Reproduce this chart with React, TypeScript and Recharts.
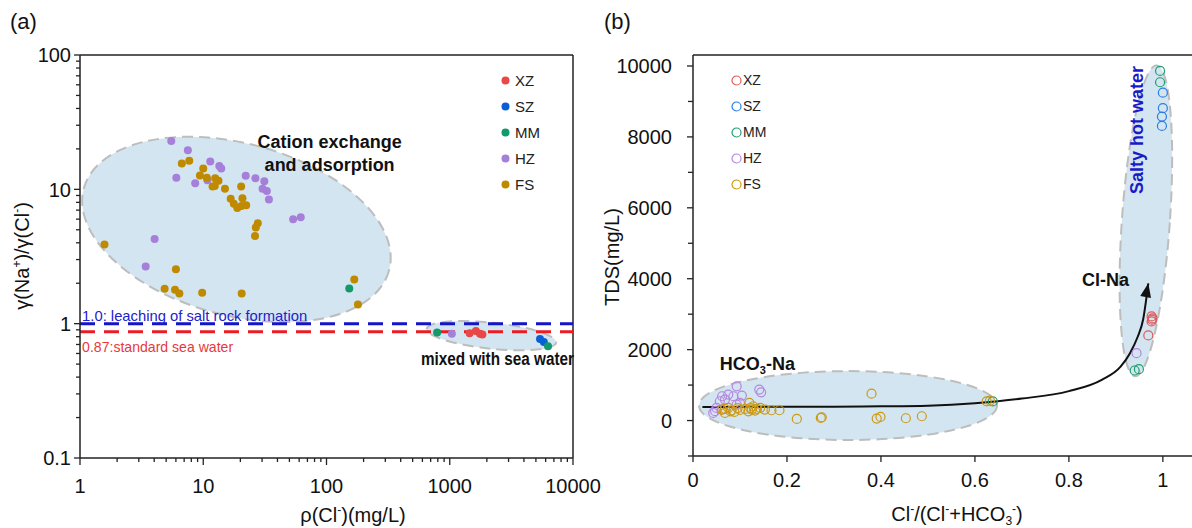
import React from "react";
import {
  ComposedChart,
  Scatter,
  Line,
  XAxis,
  YAxis,
  ReferenceLine,
  ReferenceArea,
  ReferenceDot,
  Legend,
} from "recharts";

const FONT = "'Liberation Sans', Arial, Helvetica, sans-serif";
const AXIS = "#222";

// ---------- (a) γ(Na+)/γ(Cl-) vs ρ(Cl-) ----------
const seriesNames = ["XZ", "SZ", "MM", "HZ", "FS"];
const fillA = ["#e84848", "#0b5fd5", "#12996c", "#a57fd9", "#bf8a00"];

const aXZ = [
  { x: 1450, y: 0.85 },
  { x: 1630, y: 0.88 },
  { x: 1760, y: 0.84 },
  { x: 1840, y: 0.83 },
];
const aSZ = [
  { x: 5400, y: 0.77 },
  { x: 5800, y: 0.73 },
];
const aMM = [
  { x: 153, y: 1.83 },
  { x: 790, y: 0.86 },
  { x: 6270, y: 0.68 },
];
const aHZ = [
  { x: 5.5, y: 22.9 },
  { x: 7.5, y: 19.5 },
  { x: 11.4, y: 16.1 },
  { x: 13.5, y: 14.9 },
  { x: 14.0, y: 14.3 },
  { x: 6.05, y: 12.2 },
  { x: 8.6, y: 11.1 },
  { x: 10.8, y: 11.7 },
  { x: 22.1, y: 12.6 },
  { x: 26.5, y: 12.1 },
  { x: 31.3, y: 11.5 },
  { x: 30.3, y: 10.1 },
  { x: 32.8, y: 9.7 },
  { x: 34.1, y: 8.4 },
  { x: 53.6, y: 6.0 },
  { x: 61.8, y: 6.2 },
  { x: 4.03, y: 4.26 },
  { x: 3.41, y: 2.66 },
  { x: 1040, y: 0.84 },
];
const aFS = [
  { x: 6.7, y: 15.6 },
  { x: 7.7, y: 16.3 },
  { x: 10.0, y: 14.3 },
  { x: 9.4, y: 12.7 },
  { x: 10.7, y: 12.2 },
  { x: 12.5, y: 12.1 },
  { x: 13.3, y: 11.6 },
  { x: 11.9, y: 10.5 },
  { x: 12.4, y: 10.6 },
  { x: 15.0, y: 10.1 },
  { x: 20.3, y: 10.5 },
  { x: 16.7, y: 8.5 },
  { x: 20.8, y: 8.6 },
  { x: 17.7, y: 7.8 },
  { x: 18.9, y: 7.25 },
  { x: 20.4, y: 7.5 },
  { x: 22.3, y: 7.6 },
  { x: 27.7, y: 5.6 },
  { x: 26.7, y: 5.2 },
  { x: 26.3, y: 4.5 },
  { x: 1.58, y: 3.89 },
  { x: 6.0, y: 2.54 },
  { x: 4.86, y: 1.82 },
  { x: 5.9, y: 1.79 },
  { x: 6.4, y: 1.68 },
  { x: 9.8, y: 1.7 },
  { x: 20.5, y: 1.68 },
  { x: 168, y: 2.13 },
  { x: 180, y: 1.39 },
];
const seriesA = [aXZ, aSZ, aMM, aHZ, aFS];

const xMajorA = [1, 10, 100, 1000, 10000];
const xMinorA = [
  2, 3, 4, 5, 6, 7, 8, 9, 20, 30, 40, 50, 60, 70, 80, 90, 200, 300, 400, 500, 600, 700, 800, 900,
  2000, 3000, 4000, 5000, 6000, 7000, 8000, 9000,
];
const yMajorA = [0.1, 1, 10, 100];
const yMinorA = [0.2, 0.3, 0.4, 0.5, 0.6, 0.7, 0.8, 0.9, 2, 3, 4, 5, 6, 7, 8, 9, 20, 30, 40, 50, 60, 70, 80, 90];

// ellipse boxes (unrotated) in data units
const ellipsesA = [
  { x1: 0.97, x2: 356, y1: 1.15, y2: 22, angle: 15 },
  { x1: 647, x2: 7350, y1: 0.651, y2: 1.017, angle: 6 },
];

// ---------- (b) TDS vs Cl/(Cl+HCO3) ----------
const strokeB = ["#e05a5a", "#2b7de0", "#1f9e70", "#b487e0", "#cc9a12"];

const bXZ = [
  { x: 0.976, y: 2938 },
  { x: 0.978, y: 2880 },
  { x: 0.977, y: 2845 },
  { x: 0.976, y: 2797 },
  { x: 0.969, y: 2400 },
];
const bSZ = [
  { x: 1.0, y: 9248 },
  { x: 1.0, y: 8809 },
  { x: 0.998, y: 8573 },
  { x: 0.998, y: 8310 },
];
const bMM = [
  { x: 0.638, y: 540 },
  { x: 0.94, y: 1411 },
  { x: 0.949, y: 1449 },
  { x: 0.994, y: 9860 },
  { x: 0.994, y: 9541 },
];
const bHZ = [
  { x: 0.043, y: 216 },
  { x: 0.047, y: 263 },
  { x: 0.05, y: 357 },
  { x: 0.057, y: 544 },
  { x: 0.061, y: 310 },
  { x: 0.062, y: 685 },
  { x: 0.068, y: 592 },
  { x: 0.075, y: 732 },
  { x: 0.086, y: 685 },
  { x: 0.093, y: 966 },
  { x: 0.093, y: 451 },
  { x: 0.1, y: 498 },
  { x: 0.104, y: 704 },
  { x: 0.141, y: 873 },
  { x: 0.145, y: 797 },
  { x: 0.944, y: 1900 },
];
const bFS = [
  { x: 0.062, y: 310 },
  { x: 0.068, y: 215 },
  { x: 0.068, y: 330 },
  { x: 0.075, y: 357 },
  { x: 0.08, y: 260 },
  { x: 0.082, y: 290 },
  { x: 0.088, y: 243 },
  { x: 0.095, y: 350 },
  { x: 0.1, y: 300 },
  { x: 0.111, y: 329 },
  { x: 0.118, y: 260 },
  { x: 0.12, y: 498 },
  { x: 0.122, y: 350 },
  { x: 0.125, y: 310 },
  { x: 0.128, y: 403 },
  { x: 0.132, y: 280 },
  { x: 0.136, y: 329 },
  { x: 0.143, y: 357 },
  { x: 0.153, y: 310 },
  { x: 0.167, y: 290 },
  { x: 0.184, y: 290 },
  { x: 0.221, y: 47 },
  { x: 0.272, y: 75 },
  { x: 0.274, y: 93 },
  { x: 0.38, y: 757 },
  { x: 0.391, y: 56 },
  { x: 0.399, y: 103 },
  { x: 0.453, y: 65 },
  { x: 0.487, y: 121 },
  { x: 0.625, y: 542 },
  { x: 0.632, y: 561 },
];
const seriesB = [bXZ, bSZ, bMM, bHZ, bFS];

const trend = [
  { x: 0.02, y: 385 },
  { x: 0.1, y: 385 },
  { x: 0.2, y: 388 },
  { x: 0.3, y: 392 },
  { x: 0.4, y: 400 },
  { x: 0.5, y: 420 },
  { x: 0.6, y: 490 },
  { x: 0.7, y: 620 },
  { x: 0.8, y: 830 },
  { x: 0.87, y: 1150 },
  { x: 0.91, y: 1520 },
  { x: 0.93, y: 1900 },
  { x: 0.946, y: 2350 },
  { x: 0.958, y: 2850 },
  { x: 0.969, y: 3870 },
];

const xTicksB = [0, 0.2, 0.4, 0.6, 0.8, 1];
const yTicksB = [-1000, 0, 1000, 2000, 3000, 4000, 5000, 6000, 7000, 8000, 9000, 10000];
const yLabelsB = [0, 2000, 4000, 6000, 8000, 10000];

const ellipsesB = [
  { x1: 0.0128, x2: 0.647, y1: -549, y2: 1394, angle: 0 },
  { x1: 0.9128, x2: 1.0149, y1: 1239, y2: 10028, angle: 4 },
];

// ---------- helpers ----------
const ellipseShape = (angle: number) => (p: any) => {
  const w = Math.abs(p.width);
  const h = Math.abs(p.height);
  const cx = Math.min(p.x, p.x + p.width) + w / 2;
  const cy = Math.min(p.y, p.y + p.height) + h / 2;
  return (
    <ellipse
      cx={cx}
      cy={cy}
      rx={w / 2}
      ry={h / 2}
      transform={`rotate(${angle} ${cx} ${cy})`}
      fill="#d3e5f0"
      stroke="#bdbdbd"
      strokeWidth={2}
      strokeDasharray="11 6"
    />
  );
};

const yTick = (labels: number[], fmt: (v: number) => string, lenMajor: number, lenMinor: number, gap: number) =>
  (props: any) => {
    const { x, y, payload } = props;
    const major = labels.includes(payload.value);
    const len = major ? lenMajor : lenMinor;
    return (
      <g>
        <line x1={x} y1={y} x2={x - len} y2={y} stroke={AXIS} strokeWidth={1.3} />
        {major && (
          <text x={x - lenMajor - gap} y={y} dy="0.36em" textAnchor="end" fontSize={20} fill="#111" fontFamily={FONT}>
            {fmt(payload.value)}
          </text>
        )}
      </g>
    );
  };

const xTick = (labels: number[], fmt: (v: number) => string, lenMajor: number, lenMinor: number, base: number) =>
  (props: any) => {
    const { x, y, payload } = props;
    const major = labels.includes(payload.value);
    const len = major ? lenMajor : lenMinor;
    return (
      <g>
        <line x1={x} y1={y} x2={x} y2={y + len} stroke={AXIS} strokeWidth={1.3} />
        {major && (
          <text x={x} y={y + base} textAnchor="middle" fontSize={20} fill="#111" fontFamily={FONT}>
            {fmt(payload.value)}
          </text>
        )}
      </g>
    );
  };

const textDot = (content: React.ReactNode) => (p: any) => <g transform={`translate(${p.cx},${p.cy})`}>{content}</g>;

function LegendList({ colors, hollow, fontSize }: { colors: string[]; hollow: boolean; fontSize: number }) {
  return (
    <div style={{ fontFamily: FONT, fontSize, color: "#222", lineHeight: 1 }}>
      {seriesNames.map((n, i) => (
        <div key={n} style={{ display: "flex", alignItems: "center", height: 26 }}>
          <svg width={11} height={11} style={{ display: "block" }}>
            {hollow ? (
              <circle cx={5.5} cy={5.5} r={4.5} fill="none" stroke={colors[i]} strokeWidth={1.2} />
            ) : (
              <circle cx={5.5} cy={5.5} r={4} fill={colors[i]} />
            )}
          </svg>
          <span style={{ marginLeft: hollow ? 1 : 4 }}>{n}</span>
        </div>
      ))}
    </div>
  );
}

const fmtLog = (v: number) => String(v);
const fmtB = (v: number) => String(v);

function ChartA() {
  return (
    <ComposedChart width={612} height={528} margin={{ top: 55, right: 39, bottom: 0, left: 0 }}>
      {ellipsesA.map((e, i) => (
        <ReferenceArea
          key={i}
          x1={e.x1}
          x2={e.x2}
          y1={e.y1}
          y2={e.y2}
          ifOverflow="visible"
          shape={ellipseShape(e.angle)}
        />
      ))}
      <XAxis
        dataKey="x"
        type="number"
        scale="log"
        domain={[1, 10000]}
        allowDataOverflow
        ticks={[...xMajorA, ...xMinorA]}
        interval={0}
        height={70}
        tickSize={0}
        tickMargin={0}
        tickLine={false}
        axisLine={{ stroke: AXIS, strokeWidth: 1.5 }}
        tick={xTick(xMajorA, fmtLog, 7, 4, 35)}
      />
      <YAxis
        dataKey="y"
        type="number"
        scale="log"
        domain={[0.1, 100]}
        allowDataOverflow
        ticks={[...yMajorA, ...yMinorA]}
        interval={0}
        width={80}
        tickSize={0}
        tickMargin={0}
        tickLine={false}
        axisLine={{ stroke: AXIS, strokeWidth: 1.5 }}
        tick={yTick(yMajorA, fmtLog, 6, 4, 3)}
      />
      <ReferenceLine y={100} stroke={AXIS} strokeWidth={1.5} ifOverflow="visible" />
      <ReferenceLine x={10000} stroke={AXIS} strokeWidth={1.5} ifOverflow="visible" />
      <ReferenceLine y={1} stroke="#1414c8" strokeWidth={3} strokeDasharray="15 9" />
      <ReferenceLine y={0.87} stroke="#ec1c24" strokeWidth={3} strokeDasharray="15 9" />
      {seriesA.map((d, i) => (
        <Scatter
          key={seriesNames[i]}
          name={seriesNames[i]}
          data={d}
          isAnimationActive={false}
          shape={(p: any) => <circle cx={p.cx} cy={p.cy} r={4} fill={fillA[i]} />}
        />
      ))}
      <ReferenceDot
        x={106}
        y={20.2}
        ifOverflow="visible"
        shape={textDot(
          <text textAnchor="middle" fontFamily={FONT} fontWeight="bold" fontSize={18} fill="#111">
            <tspan x={0} y={0}>Cation exchange</tspan>
            <tspan x={0} y={23}>and adsorption</tspan>
          </text>
        )}
      />
      <ReferenceDot
        x={1.04}
        y={1}
        ifOverflow="visible"
        shape={textDot(
          <text y={-3} fontFamily={FONT} fontSize={15} fill="#2222cc" textLength={225} lengthAdjust="spacingAndGlyphs">
            1.0: leaching of salt rock formation
          </text>
        )}
      />
      <ReferenceDot
        x={1.04}
        y={0.87}
        ifOverflow="visible"
        shape={textDot(
          <text y={20} fontFamily={FONT} fontSize={15} fill="#e8383d" textLength={151} lengthAdjust="spacingAndGlyphs">
            0.87:standard sea water
          </text>
        )}
      />
      <ReferenceDot
        x={2416}
        y={0.494}
        ifOverflow="visible"
        shape={textDot(
          <text x={-76} fontFamily={FONT} fontWeight="bold" fontSize={18} fill="#111" textLength={153} lengthAdjust="spacingAndGlyphs">
            mixed with sea water
          </text>
        )}
      />
      <Legend
        layout="vertical"
        align="center"
        verticalAlign="middle"
        wrapperStyle={{ left: 500, top: 67, width: "auto", height: "auto" }}
        content={() => <LegendList colors={fillA} hollow={false} fontSize={15} />}
      />
    </ComposedChart>
  );
}

function ChartB() {
  return (
    <ComposedChart width={592} height={528} margin={{ top: 55, right: 0, bottom: 0, left: 0 }}>
      {ellipsesB.map((e, i) => (
        <ReferenceArea
          key={i}
          x1={e.x1}
          x2={e.x2}
          y1={e.y1}
          y2={e.y2}
          ifOverflow="visible"
          shape={ellipseShape(e.angle)}
        />
      ))}
      <XAxis
        dataKey="x"
        type="number"
        domain={[0, 1.062]}
        allowDataOverflow
        ticks={xTicksB}
        interval={0}
        height={72}
        tickSize={0}
        tickMargin={0}
        tickLine={false}
        axisLine={{ stroke: AXIS, strokeWidth: 1.5 }}
        tick={xTick(xTicksB, fmtB, 6, 6, 31)}
      />
      <YAxis
        dataKey="y"
        type="number"
        domain={[-1000, 10310]}
        allowDataOverflow
        ticks={yTicksB}
        interval={0}
        width={93}
        tickSize={0}
        tickMargin={0}
        tickLine={false}
        axisLine={{ stroke: AXIS, strokeWidth: 1.5 }}
        tick={yTick(yLabelsB, fmtB, 6, 5, 15)}
      />
      <ReferenceLine y={10310} stroke={AXIS} strokeWidth={1.5} ifOverflow="visible" />
      {seriesB.map((d, i) => (
        <Scatter
          key={seriesNames[i]}
          name={seriesNames[i]}
          data={d}
          isAnimationActive={false}
          shape={(p: any) => (
            <circle cx={p.cx} cy={p.cy} r={4.5} fill="none" stroke={strokeB[i]} strokeWidth={1.2} />
          )}
        />
      ))}
      <Line
        data={trend}
        dataKey="y"
        type="monotone"
        stroke="#111"
        strokeWidth={2}
        dot={false}
        activeDot={false}
        legendType="none"
        isAnimationActive={false}
      />
      <ReferenceDot
        x={0.969}
        y={3870}
        ifOverflow="visible"
        shape={(p: any) => (
          <path d="M0,0 L-5.5,14 L5.5,14 Z" transform={`translate(${p.cx},${p.cy}) rotate(11)`} fill="#111" />
        )}
      />
      <ReferenceDot
        x={0.057}
        y={1437}
        ifOverflow="visible"
        shape={textDot(
          <text fontFamily={FONT} fontWeight="bold" fontSize={18} fill="#111">
            HCO<tspan dy={4} fontSize={11}>3</tspan>
            <tspan dy={-4}>-Na</tspan>
          </text>
        )}
      />
      <ReferenceDot
        x={0.828}
        y={3803}
        ifOverflow="visible"
        shape={textDot(
          <text fontFamily={FONT} fontWeight="bold" fontSize={18} fill="#111">
            Cl-Na
          </text>
        )}
      />
      <ReferenceDot
        x={0.957}
        y={8197}
        ifOverflow="visible"
        shape={textDot(
          <text transform="rotate(-90)" textAnchor="middle" fontFamily={FONT} fontWeight="bold" fontSize={18} fill="#1a1ac8">
            Salty hot water
          </text>
        )}
      />
      <Legend
        layout="vertical"
        align="center"
        verticalAlign="middle"
        wrapperStyle={{ left: 131, top: 67, width: "auto", height: "auto" }}
        content={() => <LegendList colors={strokeB} hollow fontSize={14} />}
      />
    </ComposedChart>
  );
}

export default function App() {
  const sup = (s: string) => (
    <>
      <tspan dy={-8} fontSize={12}>{s}</tspan>
      <tspan dy={8}> </tspan>
    </>
  );
  return (
    <div style={{ position: "absolute", left: 0, top: 0, width: 1192, height: 528, background: "#fff", overflow: "hidden" }}>
      <div style={{ position: "absolute", left: 0, top: 0 }}>
        <ChartA />
      </div>
      <div style={{ position: "absolute", left: 600, top: 0 }}>
        <ChartB />
      </div>
      <svg
        width={1192}
        height={528}
        style={{ position: "absolute", left: 0, top: 0, pointerEvents: "none" }}
        fontFamily={FONT}
        fill="#111"
      >
        <text x={10} y={29} fontSize={22}>(a)</text>
        <text x={604} y={29} fontSize={22}>(b)</text>
        <text x={353} y={522} fontSize={20} textAnchor="middle">
          ρ(Cl<tspan dy={-8} fontSize={12}>-</tspan>
          <tspan dy={8}>)(mg/L)</tspan>
        </text>
        <text transform="rotate(-90 29 256)" x={29} y={256} fontSize={20} textAnchor="middle">
          γ(Na<tspan dy={-8} fontSize={12}>+</tspan>
          <tspan dy={8}>)/γ(Cl</tspan>
          <tspan dy={-8} fontSize={12}>-</tspan>
          <tspan dy={8}>)</tspan>
        </text>
        <text transform="rotate(-90 619 257)" x={619} y={257} fontSize={20} textAnchor="middle">
          TDS(mg/L)
        </text>
        <text x={957} y={521} fontSize={20} textAnchor="middle">
          Cl<tspan dy={-8} fontSize={12}>-</tspan>
          <tspan dy={8}>/(Cl</tspan>
          <tspan dy={-8} fontSize={12}>-</tspan>
          <tspan dy={8}>+HCO</tspan>
          <tspan dy={4} fontSize={12}>3</tspan>
          <tspan dy={-12} fontSize={12}>-</tspan>
          <tspan dy={8}>)</tspan>
        </text>
      </svg>
    </div>
  );
}
